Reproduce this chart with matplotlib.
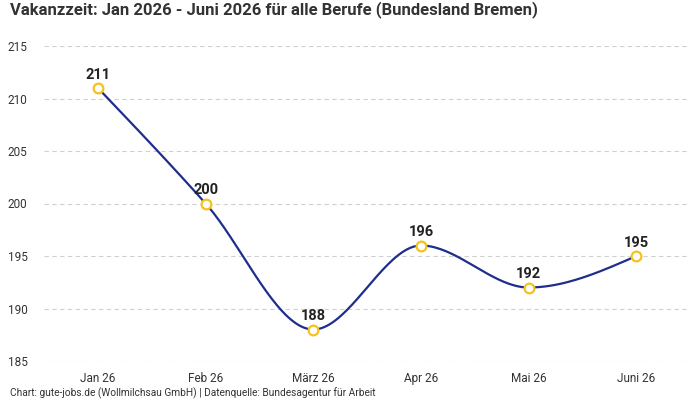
import numpy as np
import matplotlib
matplotlib.use("Agg")
import matplotlib.pyplot as plt

categories = ["Jan 26", "Feb 26", "März 26", "Apr 26", "Mai 26", "Juni 26"]
values = [211, 200, 188, 196, 192, 195]
yticks = [185, 190, 195, 200, 205, 210, 215]
title = "Vakanzzeit: Jan 2026 - Juni 2026 für alle Berufe (Bundesland Bremen)"
footer = "Chart: gute-jobs.de (Wollmilchsau GmbH) | Datenquelle: Bundesagentur für Arbeit"

plt.rcParams['font.family'] = ['Roboto', 'DejaVu Sans']

def sign(v):
    return -1.0 if v < 0 else 1.0

def monotone_x(xs, ys, n=40):
    xs = np.asarray(xs, float); ys = np.asarray(ys, float)
    m = len(xs)
    t = np.zeros(m)
    for i in range(1, m - 1):
        h0 = xs[i] - xs[i-1]; h1 = xs[i+1] - xs[i]
        s0 = (ys[i] - ys[i-1]) / h0; s1 = (ys[i+1] - ys[i]) / h1
        p = (s0 * h1 + s1 * h0) / (h0 + h1)
        t[i] = (sign(s0) + sign(s1)) * min(abs(s0), abs(s1), 0.5 * abs(p))
    h = xs[1] - xs[0]
    t[0] = (3 * (ys[1] - ys[0]) / h - t[1]) / 2
    h = xs[-1] - xs[-2]
    t[-1] = (3 * (ys[-1] - ys[-2]) / h - t[-2]) / 2
    px, py = [], []
    for i in range(m - 1):
        x0, x1 = xs[i], xs[i+1]; y0, y1 = ys[i], ys[i+1]
        dx = (x1 - x0) / 3
        P = np.array([[x0, y0], [x0 + dx, y0 + dx * t[i]], [x1 - dx, y1 - dx * t[i+1]], [x1, y1]])
        u = np.linspace(0, 1, n)[:, None]
        B = ((1-u)**3) * P[0] + 3*((1-u)**2)*u*P[1] + 3*(1-u)*u**2*P[2] + u**3*P[3]
        px.extend(B[:, 0]); py.extend(B[:, 1])
    return np.array(px), np.array(py)

fig = plt.figure(figsize=(7, 4), dpi=100)
ax = fig.add_axes([0.063, 0.0975, 0.923, 0.7875])

x = np.arange(len(categories))
cx, cy = monotone_x(x, values)
ax.plot(cx, cy, color="#1f2e8c", lw=1.6, zorder=3)
ax.plot(x, values, linestyle="none", marker="o", ms=7, mfc="white", mec="#f5c21b", mew=1.6, zorder=4)
for xi, v in zip(x, values):
    ax.annotate(str(v), (xi, v), xytext=(0, 4.5), textcoords="offset points",
                ha="center", va="bottom", fontsize=10.5, fontweight="bold", color="#222222")

ax.set_xlim(-0.5, len(categories) - 0.5)
ax.set_ylim(185, 215)
ax.set_yticks(yticks)
ax.set_xticks(x)
ax.set_xticklabels(categories)
ax.tick_params(axis="both", length=0, labelsize=8.5, colors="#333333")
ax.tick_params(axis="y", pad=12)
ax.tick_params(axis="x", pad=8)
for s in ax.spines.values():
    s.set_visible(False)
ax.grid(axis="y", color="#d0d0d0", linestyle=(0, (4, 3)), lw=0.8)
ax.set_axisbelow(True)

fig.text(0.014, 0.975, title, ha="left", va="center", fontsize=12, fontweight="bold", color="#333333")
fig.text(0.014, 0.017, footer, ha="left", va="center", fontsize=7.3, color="#333333")

fig.savefig("out.png", dpi=100, facecolor="white")
